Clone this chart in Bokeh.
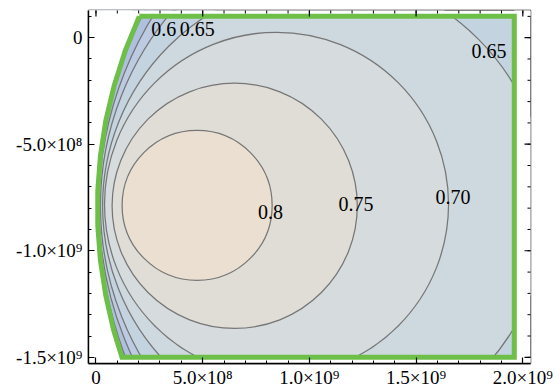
import math
from bokeh.plotting import figure
from bokeh.models import FixedTicker, Range1d
from bokeh.embed import file_html
from bokeh.resources import INLINE
from bokeh.core.properties import value

# ---- data -----------------------------------------------------------------
# closed contour rings around the maximum (level, centre x, centre y, radius)
ring_levels = [0.65, 0.70, 0.75, 0.80]
ring_cx = [1.005e9, 8.46e8, 6.50e8, 4.74e8]
ring_cy = [-7.92e8, -7.82e8, -7.89e8, -7.87e8]
ring_r = [1.111e9, 8.06e8, 5.745e8, 3.515e8]

# contour branches squeezed against the left edge of the region
edge_levels = [0.65, 0.60, 0.55, 0.50]
edge_cx = [1.088e9, 1.426e9, 1.701e9, 2.038e9]
edge_cy = [-7.89e8, -7.89e8, -7.89e8, -7.89e8]
edge_r = [1.057e9, 1.405e9, 1.687e9, 2.028e9]

# region boundary (green) : curved left edge, then straight bottom / right / top
bound_x = [2.03e8, 1.37e8, 8.5e7, 4.6e7, 2.1e7, 8.4e6, 8.4e6, 2.1e7, 4.6e7, 8.3e7, 1.22e8, 1.96e9, 1.96e9]
bound_y = [1.0e8, -6.2e7, -2.26e8, -3.9e8, -5.54e8, -7.18e8, -8.82e8, -1.046e9, -1.21e9, -1.374e9, -1.5e9, -1.5e9, 1.0e8]

# contour labels (centre of each label)
label_text = ["0.8", "0.75", "0.70", "0.65", "0.6", "0.65"]
label_x = [8.18e8, 1.218e9, 1.673e9, 1.841e9, 3.18e8, 4.74e8]
label_y = [-8.16e8, -7.79e8, -7.48e8, -6.1e7, 4.2e7, 4.2e7]

# ticks
x_ticks = [0.0, 5.0e8, 1.0e9, 1.5e9, 2.0e9]
x_tick_labels = ["0", "5.0×10⁸", "1.0×10⁹", "1.5×10⁹", "2.0×10⁹"]
y_ticks = [0.0, -5.0e8, -1.0e9, -1.5e9]
y_tick_labels = ["0", "-5.0×10⁸", "-1.0×10⁹", "-1.5×10⁹"]
x_minor = [i * 1e8 for i in range(0, 21)]
y_minor = [1e8 - i * 1e8 for i in range(0, 17)]

# ---- styles ---------------------------------------------------------------
band_color = {            # colour of the band just above each level
    0.45: "#9fb3da",
    0.50: "#aebfdf",
    0.55: "#bccbe1",
    0.60: "#c3d3df",
    0.65: "#cdd8df",
    0.70: "#d6dbdd",
    0.75: "#dfddd6",
    0.80: "#eadfd0",
}
LINE = "#767676"
GREEN = "#6dbf48"
FONT = "Liberation Serif"

X0, X1 = -3.5e7, 2.036e9
Y0, Y1 = -1.529e9, 1.275e8

p = figure(width=555, height=390, x_range=Range1d(X0, X1), y_range=Range1d(Y0, Y1),
           output_backend="svg", toolbar_location=None,
           min_border_left=88, min_border_right=25, min_border_top=10, min_border_bottom=27)
p.outline_line_color = "black"
p.outline_line_width = 1.4
p.xgrid.visible = False
p.ygrid.visible = False
p.background_fill_color = "white"
p.border_fill_color = "white"

# base of region
p.patch(bound_x, bound_y, fill_color=band_color[0.60], line_color=None)

# rings (outer to inner)
p.circle(x=ring_cx, y=ring_cy, radius=ring_r,
         fill_color=[band_color[l] for l in ring_levels],
         line_color=LINE, line_width=1.25)

# bands left of the squeezed branches
lower = {0.65: 0.60, 0.60: 0.55, 0.55: 0.50, 0.50: 0.45}
p.annular_wedge(x=edge_cx, y=edge_cy, inner_radius=edge_r, outer_radius=4e9,
                start_angle=math.pi / 2, end_angle=3 * math.pi / 2,
                fill_color=[band_color[lower[l]] for l in edge_levels], line_color=None)
p.arc(x=edge_cx, y=edge_cy, radius=edge_r, start_angle=math.pi / 2, end_angle=3 * math.pi / 2,
      line_color=LINE, line_width=1.25)

# white outside the region
n_left = 11
mask_x = bound_x[:n_left] + [X0 - 1e9, X0 - 1e9]
mask_y = bound_y[:n_left] + [Y0 - 1e9, Y1 + 1e9]
p.patch(mask_x, mask_y, fill_color="white", line_color=None)
p.quad(left=[X0 - 1e9, X0 - 1e9, bound_x[-1]], right=[X1 + 1e9, X1 + 1e9, X1 + 1e9],
       bottom=[bound_y[0], Y0 - 1e9, Y0 - 1e9], top=[Y1 + 1e9, bound_y[n_left - 1], Y1 + 1e9],
       fill_color="white", line_color=None)

# green boundary
p.line(bound_x + [bound_x[0]], bound_y + [bound_y[0]], line_color=GREEN, line_width=5,
       line_join="miter")

# labels
p.text(x=label_x, y=label_y, text=label_text, text_font=value(FONT), text_font_size="20px",
       text_align="center", text_baseline="middle", text_color="black")

# inward ticks on the top and right frame edges
p.scatter(x=x_minor, y=[Y1] * len(x_minor), marker="dash", size=6, angle=math.pi / 2,
          line_color="black", line_width=1)
p.scatter(x=x_ticks, y=[Y1] * len(x_ticks), marker="dash", size=12, angle=math.pi / 2,
          line_color="black", line_width=1.2)
p.scatter(x=[X1] * len(y_minor), y=y_minor, marker="dash", size=6,
          line_color="black", line_width=1)
p.scatter(x=[X1] * len(y_ticks), y=y_ticks, marker="dash", size=12,
          line_color="black", line_width=1.2)


def style_axis(ax, ticks, minor, labels, standoff):
    ax.ticker = FixedTicker(ticks=ticks, minor_ticks=minor)
    ax.axis_line_color = "black"
    ax.axis_line_width = 1.4
    ax.major_tick_in = 6
    ax.major_tick_out = 0
    ax.minor_tick_in = 3
    ax.minor_tick_out = 0
    ax.major_tick_line_color = "black"
    ax.minor_tick_line_color = "black"
    ax.major_tick_line_width = 1.2
    ax.minor_tick_line_width = 1
    ax.major_label_overrides = dict(zip(ticks, labels))
    ax.major_label_text_font = FONT
    ax.major_label_text_font_size = "19px"
    ax.major_label_text_color = "black"
    ax.major_label_standoff = standoff


style_axis(p.xaxis[0], x_ticks, x_minor, x_tick_labels, 3)
style_axis(p.yaxis[0], y_ticks, y_minor, y_tick_labels, 6)

open("out.html", "w").write(file_html(p, INLINE))
